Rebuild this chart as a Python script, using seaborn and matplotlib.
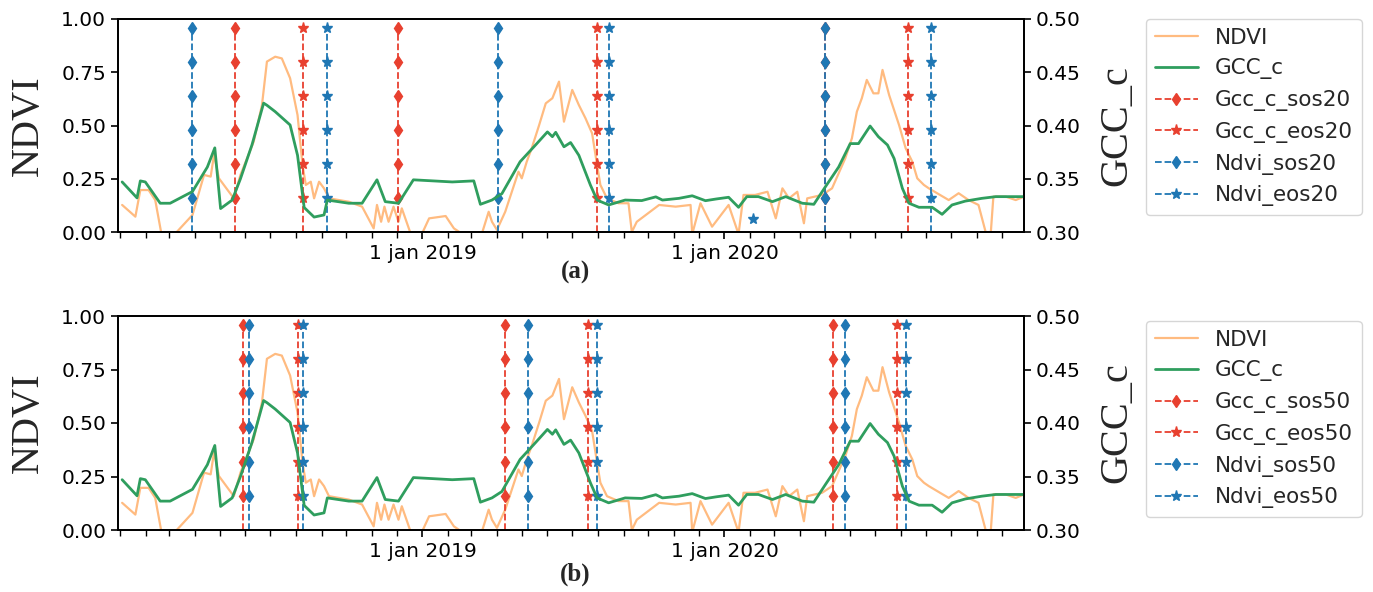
import numpy as np
import pandas as pd
import matplotlib
matplotlib.use("Agg")
import matplotlib.pyplot as plt
import matplotlib.dates as mdates
from matplotlib.ticker import FixedLocator, FixedFormatter, FormatStrFormatter
import seaborn as sns

# ---------------------------------------------------------------------------
# Data
# ---------------------------------------------------------------------------
SERIES_START = "2018-01-01"   # day offsets below count from this date

# NDVI time series (day offset, value)
ndvi_day = [2, 18, 24, 34, 42, 50, 58, 68, 87, 101, 109, 113, 119, 131, 137,
            145, 161, 171, 177, 187, 195, 205, 214, 220, 224, 230, 234, 240,
            246, 252, 276, 292, 306, 310, 315, 319, 324, 330, 336, 340, 350,
            357, 363, 373, 393, 403, 421, 435, 445, 449, 455, 465, 481, 485,
            491, 497, 506, 514, 522, 530, 536, 546, 554, 562, 570, 576, 580,
            588, 602, 614, 618, 624, 651, 671, 689, 691, 701, 715, 735, 747,
            753, 767, 782, 792, 800, 808, 818, 826, 830, 848, 860, 876, 884,
            890, 896, 902, 910, 916, 921, 929, 937, 941, 949, 957, 963, 971,
            977, 987, 1001, 1013, 1025, 1037, 1047, 1051, 1055, 1070, 1082,
            1092]
ndvi_val = [0.127, 0.072, 0.197, 0.197, 0.150, -0.02, -0.08, 0.0, 0.080,
            0.268, 0.260, 0.362, 0.252, 0.189, 0.158, 0.268, 0.424, 0.596,
            0.800, 0.823, 0.815, 0.722, 0.549, 0.315, 0.221, 0.236, 0.158,
            0.236, 0.205, 0.158, 0.142, 0.119, 0.017, 0.127, 0.048, 0.119,
            0.048, 0.119, 0.048, 0.111, 0.0, -0.04, -0.02, 0.064, 0.075,
            0.017, -0.03, -0.03, 0.095, 0.048, 0.010, 0.095, 0.283, 0.252,
            0.330, 0.393, 0.502, 0.604, 0.628, 0.706, 0.518, 0.667, 0.596,
            0.534, 0.463, 0.315, 0.221, 0.158, 0.135, 0.135, 0.0, 0.048,
            0.127, 0.119, 0.127, -0.01, 0.135, 0.025, 0.127, -0.01, 0.174,
            0.174, 0.189, 0.064, 0.205, 0.158, 0.189, 0.041, 0.158, 0.174,
            0.205, 0.346, 0.440, 0.565, 0.628, 0.714, 0.651, 0.651, 0.761,
            0.643, 0.549, 0.502, 0.393, 0.330, 0.252, 0.221, 0.205, 0.182,
            0.150, 0.182, 0.150, 0.127, -0.02, -0.05, 0.166, 0.166, 0.150,
            0.166]

# Camera GCC time series (day offset, value)
gcc_day = [2, 20, 24, 30, 48, 60, 87, 105, 114, 121, 135, 145, 159, 173, 177,
           187, 205, 214, 222, 234, 246, 250, 276, 292, 310, 320, 336, 354,
           401, 427, 435, 449, 461, 483, 502, 516, 522, 526, 536, 544, 554,
           568, 576, 590, 610, 630, 647, 655, 675, 691, 707, 720, 735, 747,
           757, 771, 788, 804, 824, 838, 852, 868, 882, 892, 906, 916, 927,
           935, 945, 953, 965, 981, 993, 1005, 1021, 1041, 1058, 1078, 1092]
gcc_val = [0.347, 0.332, 0.348, 0.347, 0.327, 0.327, 0.338, 0.361, 0.379,
           0.322, 0.330, 0.350, 0.382, 0.421, 0.419, 0.413, 0.4005, 0.372,
           0.323, 0.314, 0.316, 0.330, 0.327, 0.327, 0.349, 0.3285, 0.327,
           0.349, 0.347, 0.348, 0.326, 0.330, 0.336, 0.366, 0.382, 0.394,
           0.3895, 0.3936, 0.380, 0.384, 0.372, 0.344, 0.330, 0.3254, 0.330,
           0.3295, 0.333, 0.330, 0.3316, 0.334, 0.3294, 0.331, 0.3326,
           0.3232, 0.3332, 0.3332, 0.3285, 0.3332, 0.327, 0.326, 0.3425,
           0.361, 0.383, 0.383, 0.3995, 0.3895, 0.3817, 0.369, 0.341, 0.327,
           0.3232, 0.3232, 0.3166, 0.3254, 0.329, 0.3316, 0.3332, 0.3332,
           0.3332]

# Phenology transition dates, 20 % threshold
gcc_sos20 = ["2018-05-20", "2018-12-02", "2020-05-02"]
gcc_eos20 = ["2018-08-10", "2019-07-31", "2020-08-10"]
ndvi_sos20 = ["2018-03-28", "2019-04-02", "2020-05-02"]
ndvi_eos20 = ["2018-09-07", "2019-08-15", "2020-09-06"]
ndvi_eos20_single_date = "2020-02-04"
ndvi_eos20_single_value = 0.06

# Phenology transition dates, 50 % threshold
gcc_sos50 = ["2018-05-29", "2019-04-11", "2020-05-11"]
gcc_eos50 = ["2018-08-04", "2019-07-20", "2020-07-28"]
ndvi_sos50 = ["2018-06-05", "2019-05-08", "2020-05-26"]
ndvi_eos50 = ["2018-08-09", "2019-07-31", "2020-08-07"]

# Height levels of the markers along each transition line
marker_levels = [0.0, 0.16, 0.32, 0.48, 0.64, 0.80, 0.96]

tick_dates = ["2019-01-01", "2020-01-01"]
tick_labels = ["1 jan 2019", "1 jan 2020"]
panel_tags = ["(a)", "(b)"]

# ---------------------------------------------------------------------------
# Styling
# ---------------------------------------------------------------------------
sns.set_style("ticks")
plt.rcParams["font.family"] = ["DejaVu Sans"]
plt.rcParams.update({
    "axes.linewidth": 1.3,
    "axes.edgecolor": "black",
    "xtick.major.size": 5,
    "xtick.minor.size": 4,
    "ytick.major.size": 5,
    "xtick.major.width": 1.2,
    "xtick.minor.width": 1.0,
    "ytick.major.width": 1.2,
    "xtick.color": "black",
    "ytick.color": "black",
})

NDVI_COLOR = "#ffbb80"
GCC_COLOR = "#2f9e5e"
RED = "#e8402f"
BLUE = "#1f77b4"
SERIF = "Liberation Serif"

start = pd.Timestamp(SERIES_START)
ndvi_df = pd.DataFrame({"date": start + pd.to_timedelta(ndvi_day, unit="D"),
                        "NDVI": ndvi_val})
gcc_df = pd.DataFrame({"date": start + pd.to_timedelta(gcc_day, unit="D"),
                       "GCC_c": gcc_val})

W, H = 1373, 592
fig = plt.figure(figsize=(W / 100, H / 100), dpi=100)
fig.patch.set_facecolor("white")

ax_left = 118 / W
ax_width = (1024 - 118) / W
panels = [
    dict(top=19, bottom=232, thr="20",
         events=[(gcc_sos20, RED, "d"), (gcc_eos20, RED, "*"),
                 (ndvi_sos20, BLUE, "d"), (ndvi_eos20, BLUE, "*")],
         tag_y=272, legend_top=19),
    dict(top=316, bottom=530, thr="50",
         events=[(gcc_sos50, RED, "d"), (gcc_eos50, RED, "*"),
                 (ndvi_sos50, BLUE, "d"), (ndvi_eos50, BLUE, "*")],
         tag_y=574, legend_top=321),
]
event_names = ["Gcc_c_sos", "Gcc_c_eos", "Ndvi_sos", "Ndvi_eos"]

for i, p in enumerate(panels):
    rect = [ax_left, 1 - p["bottom"] / H, ax_width,
            (p["bottom"] - p["top"]) / H]
    ax = fig.add_axes(rect)
    ax2 = ax.twinx()

    sns.lineplot(data=ndvi_df, x="date", y="NDVI", ax=ax, color=NDVI_COLOR,
                 lw=1.6, label="NDVI", legend=False)

    handles = [ax.lines[-1]]
    for (dates, color, marker), name in zip(p["events"], event_names):
        first = None
        for d in dates:
            t = pd.Timestamp(d)
            ln, = ax.plot([t] * len(marker_levels), marker_levels,
                          linestyle="--", lw=1.3, color=color, marker=marker,
                          markersize=8 if marker == "*" else 6.5,
                          markevery=slice(1, None), clip_on=False,
                          label=name + p["thr"] if first is None else None)
            if first is None:
                first = ln
        handles.append(first)
    if i == 0:
        ax.plot([pd.Timestamp(ndvi_eos20_single_date)],
                [ndvi_eos20_single_value], linestyle="none", marker="*",
                markersize=8, color=BLUE)

    sns.lineplot(data=gcc_df, x="date", y="GCC_c", ax=ax2, color=GCC_COLOR,
                 lw=2.0, label="GCC_c", legend=False)
    handles.insert(1, ax2.lines[-1])

    ax.set_xlim(pd.Timestamp("2017-12-29"), pd.Timestamp("2020-12-28"))
    ax.set_ylim(0, 1)
    ax2.set_ylim(0.30, 0.50)
    ax.set_yticks([0, 0.25, 0.5, 0.75, 1.0])
    ax2.set_yticks([0.30, 0.35, 0.40, 0.45, 0.50])
    ax.yaxis.set_major_formatter(FormatStrFormatter("%.2f"))
    ax2.yaxis.set_major_formatter(FormatStrFormatter("%.2f"))

    ax.xaxis.set_major_locator(
        FixedLocator(mdates.date2num(pd.to_datetime(tick_dates))))
    ax.xaxis.set_major_formatter(FixedFormatter(tick_labels))
    ax.xaxis.set_minor_locator(mdates.MonthLocator())
    ax.tick_params(axis="both", which="both", labelsize=14.5, direction="out")
    ax2.tick_params(axis="y", labelsize=14.5, direction="out")
    ax.set_xlabel("")

    ax.set_ylabel("NDVI", family=SERIF, fontsize=29)
    ax2.set_ylabel("GCC_c", family=SERIF, fontsize=29)
    ax.yaxis.set_label_coords(-0.079, 0.5)
    ax2.yaxis.set_label_coords(1.082, 0.5)

    fig.text(575 / W, 1 - p["tag_y"] / H, panel_tags[i], family=SERIF,
             fontsize=18, fontweight="bold", ha="center", va="center")

    fig.legend(handles=handles, labels=[h.get_label() for h in handles],
               loc="upper left",
               bbox_to_anchor=(1146 / W, 1 - p["legend_top"] / H),
               borderaxespad=0.0, fontsize=15.5, frameon=True,
               edgecolor="0.8", fancybox=True, borderpad=0.4,
               labelspacing=0.5, handlelength=2.0)

fig.savefig("out.png", dpi=100, facecolor="white")
